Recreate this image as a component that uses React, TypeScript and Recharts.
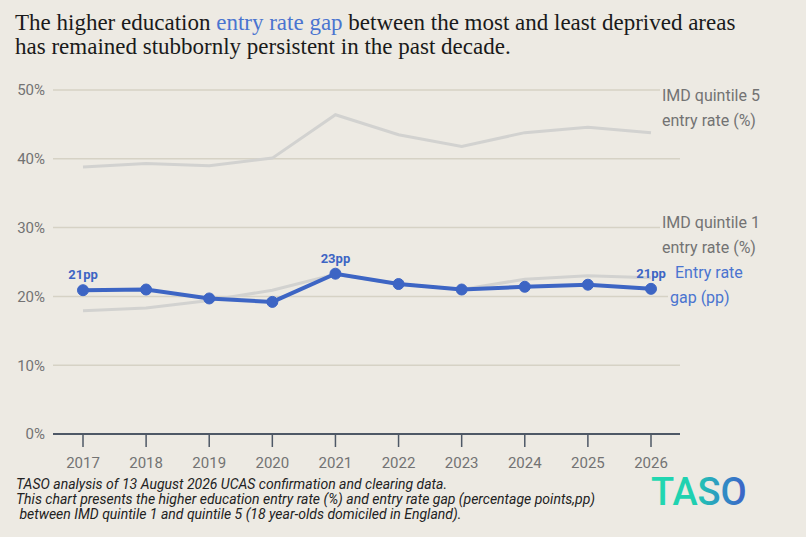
import { CartesianGrid, LabelList, Line, LineChart, XAxis, YAxis } from 'recharts'

const years = ['2017', '2018', '2019', '2020', '2021', '2022', '2023', '2024', '2025', '2026']
const q5Rate = [38.8, 39.3, 39.0, 40.1, 46.4, 43.5, 41.8, 43.8, 44.6, 43.8]
const q1Rate = [17.9, 18.3, 19.4, 20.9, 23.2, 21.8, 21.0, 22.5, 23.0, 22.7]
const gapPp = [20.9, 21.0, 19.7, 19.2, 23.3, 21.8, 21.0, 21.4, 21.7, 21.1]
const yTicks = [0, 10, 20, 30, 40, 50]
const labelledPoints = [0, 4, 9]

const BG = '#edeae3'
const BLUE = '#3d65c4'
const LABEL_BLUE = '#4a74d0'
const GREY_LINE = '#d2d2d0'
const MUTED = '#737373'
const AXIS = '#4e5866'

const data = years.map((year, i) => ({
  year,
  q5: q5Rate[i],
  q1: q1Rate[i],
  gap: gapPp[i],
}))

function GapLabel(props: any) {
  const { x, y, value, index } = props
  if (!labelledPoints.includes(index)) return null
  return (
    <text
      x={x}
      y={y - 11}
      textAnchor="middle"
      fontSize={13}
      fontWeight={700}
      fill={BLUE}
      fontFamily="Roboto, sans-serif"
    >
      {`${Math.round(value)}pp`}
    </text>
  )
}

const seriesLabel: React.CSSProperties = {
  position: 'absolute',
  background: BG,
  fontFamily: 'Roboto, sans-serif',
  fontSize: 16,
  lineHeight: '25px',
  color: MUTED,
  paddingLeft: 2,
  whiteSpace: 'nowrap',
}

export default function App() {
  return (
    <div
      style={{
        position: 'fixed',
        top: 0,
        left: 0,
        width: 806,
        height: 537,
        background: BG,
        overflow: 'hidden',
      }}
    >
      <div
        style={{
          position: 'absolute',
          left: 15,
          top: 11,
          fontFamily: '"Liberation Serif", serif',
          fontSize: 23,
          lineHeight: '24px',
          color: '#1a1a1a',
        }}
      >
        The higher education <span style={{ color: LABEL_BLUE }}>entry rate gap</span> between the most and least deprived areas
        <br />
        has remained stubbornly persistent in the past decade.
      </div>

      <div style={{ position: 'absolute', left: 0, top: 0 }}>
        <LineChart width={806} height={537} data={data} margin={{ top: 90, right: 126, bottom: 56, left: 0 }}>
          <CartesianGrid vertical={false} stroke="#d6d2c5" strokeWidth={1.5} />
          <XAxis
            dataKey="year"
            padding={{ left: 30, right: 29 }}
            axisLine={{ stroke: AXIS, strokeWidth: 2 }}
            tickLine={{ stroke: AXIS, strokeWidth: 1.5 }}
            tickSize={13}
            tickMargin={10}
            tick={{ fill: MUTED, fontSize: 15, fontFamily: 'Roboto, sans-serif' }}
            height={47}
          />
          <YAxis
            domain={[0, 50]}
            ticks={yTicks}
            tickFormatter={(v) => `${v}%`}
            axisLine={false}
            tickLine={false}
            tickSize={0}
            tickMargin={8}
            width={53}
            tick={{ fill: MUTED, fontSize: 15, fontFamily: 'Roboto, sans-serif' }}
          />
          <Line dataKey="q5" stroke={GREY_LINE} strokeWidth={3} dot={false} isAnimationActive={false} />
          <Line dataKey="q1" stroke={GREY_LINE} strokeWidth={3} dot={false} isAnimationActive={false} />
          <Line
            dataKey="gap"
            stroke={BLUE}
            strokeWidth={4}
            dot={{ r: 5.5, fill: BLUE, stroke: BLUE, strokeWidth: 1 }}
            isAnimationActive={false}
          >
            <LabelList dataKey="gap" content={<GapLabel />} />
          </Line>
        </LineChart>
      </div>

      <div style={{ ...seriesLabel, left: 660, top: 83 }}>
        IMD quintile 5
        <br />
        entry rate (%)
      </div>
      <div style={{ ...seriesLabel, left: 660, top: 210 }}>
        IMD quintile 1
        <br />
        entry rate (%)
      </div>
      <div style={{ ...seriesLabel, left: 668, top: 260, color: LABEL_BLUE, paddingLeft: 2 }}>
        <span style={{ paddingLeft: 5 }}>Entry rate</span>
        <br />
        gap (pp)
      </div>

      <div
        style={{
          position: 'absolute',
          left: 16,
          top: 477,
          fontFamily: 'Roboto, sans-serif',
          fontStyle: 'italic',
          fontSize: 14,
          lineHeight: '15px',
          color: '#222',
        }}
      >
        TASO analysis of 13 August 2026 UCAS confirmation and clearing data.
        <br />
        This chart presents the higher education entry rate (%) and entry rate gap (percentage points,pp)
        <br />
        &nbsp;between IMD quintile 1 and quintile 5 (18 year-olds domiciled in England).
      </div>

      <svg style={{ position: 'absolute', left: 645, top: 470 }} width={110} height={45}>
        <defs>
          <linearGradient id="tasoGrad" x1="0" y1="0" x2="1" y2="0">
            <stop offset="0%" stopColor="#22d8b0" />
            <stop offset="45%" stopColor="#1fd0b0" />
            <stop offset="75%" stopColor="#2f8fc4" />
            <stop offset="100%" stopColor="#3e5fc8" />
          </linearGradient>
        </defs>
        <text x={6} y={35} fontFamily="Roboto, sans-serif" fontWeight={500} fontSize={38} fill="url(#tasoGrad)">
          TASO
        </text>
      </svg>
    </div>
  )
}
